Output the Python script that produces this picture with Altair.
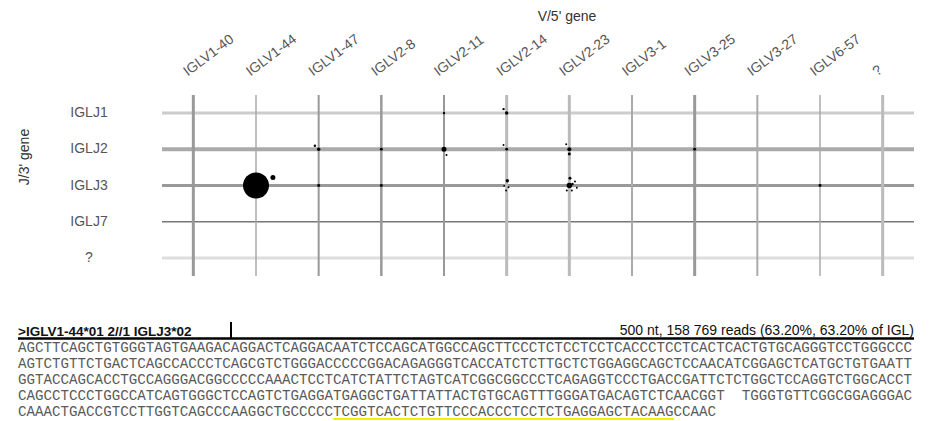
import altair as alt
import pandas as pd

# ---------------- data ----------------
V_GENES = ["IGLV1-40", "IGLV1-44", "IGLV1-47", "IGLV2-8", "IGLV2-11", "IGLV2-14",
           "IGLV2-23", "IGLV3-1", "IGLV3-25", "IGLV3-27", "IGLV6-57", "?"]
J_GENES = ["IGLJ1", "IGLJ2", "IGLJ3", "IGLJ7", "?"]

# clones: V gene index, J gene index, reads, small placement jitter (grid units)
CLONE_V = [1, 1, 2, 2, 2, 3, 3, 4, 4, 4, 5, 5, 5, 5, 5, 5, 5, 5,
           6, 6, 6, 6, 6, 6, 6, 6, 6, 6, 8, 10]
CLONE_J = [2, 2, 1, 1, 2, 1, 2, 0, 1, 1, 0, 0, 1, 1, 2, 2, 2, 2,
           1, 1, 1, 2, 2, 2, 2, 2, 2, 2, 1, 2]
CLONE_READS = [158769, 5900, 2800, 1400, 2100, 2100, 2100, 1400, 5900, 900,
               2800, 1400, 2100, 900, 2800, 900, 900, 900,
               3800, 900, 2100, 7000, 2100, 900, 900, 900, 900, 1400, 2100, 2100]
CLONE_JX = [0, 0.27, 0, -0.06, 0, 0, 0, 0, 0, 0.04, 0, -0.05, 0, -0.05, 0.01, -0.04, 0.03, -0.01,
            0, -0.05, 0, 0, 0.01, 0.09, 0.12, -0.04, 0.04, 0.05, 0, 0]
CLONE_JY = [0, -0.22, 0, -0.10, 0, 0, 0, 0, 0, 0.16, 0, -0.11, 0, -0.12, -0.13, 0.01, 0.05, 0.14,
            0, -0.14, 0.13, 0, -0.20, -0.11, 0.06, 0.14, 0.14, -0.04, 0, 0]

X_TITLE = "V/5' gene"
Y_TITLE = "J/3' gene"
HEADER_LEFT = ">IGLV1-44*01 2//1 IGLJ3*02"
HEADER_RIGHT = "500 nt, 158 769 reads (63.20%, 63.20% of IGL)"
SEQ_LINES = [
    "AGCTTCAGCTGTGGGTAGTGAAGACAGGACTCAGGACAATCTCCAGCATGGCCAGCTTCCCTCTCCTCCTCACCCTCCTCACTCACTGTGCAGGGTCCTGGGCCC",
    "AGTCTGTTCTGACTCAGCCACCCTCAGCGTCTGGGACCCCCGGACAGAGGGTCACCATCTCTTGCTCTGGAGGCAGCTCCAACATCGGAGCTCATGCTGTGAATT",
    "GGTACCAGCACCTGCCAGGGACGGCCCCCAAACTCCTCATCTATTCTAGTCATCGGCGGCCCTCAGAGGTCCCTGACCGATTCTCTGGCTCCAGGTCTGGCACCT",
    "CAGCCTCCCTGGCCATCAGTGGGCTCCAGTCTGAGGATGAGGCTGATTATTACTGTGCAGTTTGGGATGACAGTCTCAACGGT\u00a0\u00a0TGGGTGTTCGGCGGAGGGAC",
    "CAAACTGACCGTCCTTGGTCAGCCCAAGGCTGCCCCCTCGGTCACTCTGTTCCCACCCTCCTCTGAGGAGCTACAAGCCAAC",
]
HIGHLIGHT_START, HIGHLIGHT_END = 37, 77   # characters of last line underlined in yellow

# ---------------- styles ----------------
V_LINE_WIDTH = [3, 1.5, 2, 2.5, 2, 3, 3, 2, 3, 2, 1.5, 3]
V_LINE_COLOR = ["#999999", "#aaaaaa", "#999999", "#999999", "#999999", "#bbbbbb",
                "#bbbbbb", "#aaaaaa", "#999999", "#aaaaaa", "#aaaaaa", "#bbbbbb"]
J_LINE_WIDTH = [3, 4, 3, 1.5, 3]
J_LINE_COLOR = ["#cccccc", "#aaaaaa", "#999999", "#777777", "#dddddd"]
LABEL_COLOR = "#555555"
FONT = "Liberation Sans"

W, H = 752, 181
CHAR_W = 14.2 * 0.6
LEFT = -144

v_df = pd.DataFrame({"col": list(range(len(V_GENES))), "name": V_GENES,
                     "w": V_LINE_WIDTH, "c": V_LINE_COLOR})
j_df = pd.DataFrame({"row": list(range(len(J_GENES))), "name": J_GENES,
                     "w": J_LINE_WIDTH, "c": J_LINE_COLOR})
clones = pd.DataFrame({"v": CLONE_V, "j": CLONE_J, "reads": CLONE_READS,
                       "jx": CLONE_JX, "jy": CLONE_JY})
seq_df = pd.DataFrame({"row": list(range(len(SEQ_LINES))), "text": SEQ_LINES})
one = pd.DataFrame({"a": [0]})

xscale = alt.Scale(domain=[-0.5, len(V_GENES) - 0.5], nice=False, zero=False)
yscale = alt.Scale(domain=[-0.5, len(J_GENES) - 0.5], nice=False, zero=False, reverse=True)

hrules = alt.Chart(j_df).mark_rule().encode(
    y=alt.Y("row:Q", scale=yscale, axis=None),
    strokeWidth=alt.StrokeWidth("w:Q", scale=None),
    color=alt.Color("c:N", scale=None),
)
vrules = alt.Chart(v_df).mark_rule().encode(
    x=alt.X("col:Q", scale=xscale, axis=None),
    strokeWidth=alt.StrokeWidth("w:Q", scale=None),
    color=alt.Color("c:N", scale=None),
)
points = alt.Chart(clones).transform_calculate(
    xp="datum.v + datum.jx", yp="datum.j + datum.jy"
).mark_circle(color="black", opacity=1).encode(
    x=alt.X("xp:Q", scale=xscale, axis=None),
    y=alt.Y("yp:Q", scale=yscale, axis=None),
    size=alt.Size("reads:Q", scale=alt.Scale(domain=[0, 158769], range=[0, 676], zero=True),
                  legend=None),
)
v_labels = alt.Chart(v_df).transform_calculate(lx="datum.col - 0.06").mark_text(
    align="left", baseline="bottom", angle=323, font=FONT, fontSize=14, color=LABEL_COLOR
).encode(x=alt.X("lx:Q", scale=xscale, axis=None), y=alt.value(-16), text="name:N")
j_labels = alt.Chart(j_df).mark_text(
    align="center", baseline="middle", font=FONT, fontSize=14, color=LABEL_COLOR
).encode(y=alt.Y("row:Q", scale=yscale, axis=None), x=alt.value(-73), text="name:N")
x_title = alt.Chart(one).mark_text(
    align="center", baseline="middle", font=FONT, fontSize=14, color="#333333", text=X_TITLE
).encode(x=alt.value(405), y=alt.value(-78))
y_title = alt.Chart(one).mark_text(
    align="center", baseline="middle", font=FONT, fontSize=14, color="#333333", angle=270,
    text=Y_TITLE
).encode(x=alt.value(-137), y=alt.value(62))

grid = alt.layer(hrules, vrules, points, v_labels, j_labels, x_title, y_title)

seq_text = alt.Chart(seq_df).mark_text(
    align="left", baseline="middle", font="Liberation Mono", fontSize=14.2, color="#5a5a5a"
).encode(
    x=alt.value(LEFT),
    y=alt.Y("row:Q", scale=alt.Scale(domain=[0, len(SEQ_LINES) - 1], range=[253, 317],
                                     nice=False, zero=False), axis=None),
    text="text:N",
)
head_left = alt.Chart(one).mark_text(
    align="left", baseline="alphabetic", font=FONT, fontSize=13.5,
    fontWeight="bold", color="#111111", text=HEADER_LEFT
).encode(x=alt.value(LEFT), y=alt.value(241))
head_right = alt.Chart(one).mark_text(
    align="right", baseline="alphabetic", font=FONT, fontSize=14,
    color="#111111", text=HEADER_RIGHT
).encode(x=alt.value(W), y=alt.value(240))
head_line = alt.Chart(one).mark_rule(color="black", strokeWidth=2.5).encode(
    x=alt.value(LEFT), x2=alt.value(W), y=alt.value(243.5))
head_bar = alt.Chart(one).mark_rule(color="black", strokeWidth=2).encode(
    x=alt.value(69), y=alt.value(227), y2=alt.value(243))
highlight = alt.Chart(one).mark_rule(color="#f2f200", strokeWidth=2).encode(
    x=alt.value(LEFT + HIGHLIGHT_START * CHAR_W), x2=alt.value(LEFT + HIGHLIGHT_END * CHAR_W),
    y=alt.value(324))

chart = alt.layer(grid, seq_text, head_left, head_right, head_line, head_bar, highlight).resolve_scale(
    y="independent"
).properties(
    width=W, height=H,
    autosize=alt.AutoSizeParams(type="none"),
    padding={"left": 154, "top": 87, "right": 9, "bottom": 145},
    background="white",
).configure_view(stroke=None)

chart.save("out.html", embed_options={"renderer": "svg", "actions": False})
